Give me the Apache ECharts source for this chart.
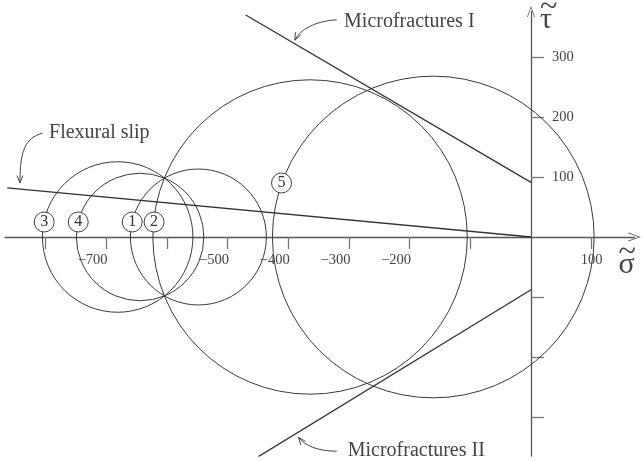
<!DOCTYPE html>
<html>
<head>
<meta charset="utf-8">
<title>Mohr circles</title>
<script src="https://cdn.jsdelivr.net/npm/echarts@6/dist/echarts.min.js"></script>
<style>
  html, body { margin: 0; padding: 0; background: #fff; }
  #main { width: 642px; height: 461px; }
</style>
</head>
<body>
<div id="main"></div>
<script>
// axis ticks and labels
var sigmaTicks = [-800, -700, -600, -500, -400, -300, -200, -100, 100];
var sigmaLabels = [-700, -500, -400, -300, -200, 100];
var tauTicks = [-300, -200, -100, 100, 200, 300];
var tauLabels = [100, 200, 300];

// Mohr circles: number, centre (sigma) and radius
var circleNames = ['1', '2', '3', '4', '5'];
var circleCenters = [-548, -364, -681, -644, -161];
var circleRadii = [112, 259, 124, 105, 265];
// where the circled number sits
var circleTagSigma = [-657, -621, -802, -746, -411];
var circleTagTau = [25, 25, 25, 25, 90];

// envelopes
var flexuralSlip = [[-863, 82], [0, 0]];
var microfracturesI = [[-470, 370], [0, 91]];
var microfracturesII = [[-449, -366], [0, -88]];

// annotations: text anchor and curved arrow (start, cp1, cp2, end)
var noteNames = ['Flexural slip', 'Microfractures I', 'Microfractures II'];
var noteAt = [[-794, 173], [-308, 359], [-302, -357]];
var noteArrows = [
  [-805, 173, -833, 165, -842, 145, -842, 90],
  [-320, 362, -356, 360, -381, 345, -389, 328],
  [-320, -357, -351, -357, -372, -348, -383, -334]
];

var serif = '"Liberation Serif", "DejaVu Serif", serif';
var ink = '#3a3a3a';
var chevron = 'path://M5,0 L10,14 L9,14 L5,2.4 L1,14 L0,14 Z';

var myChart = echarts.init(document.getElementById('main'));

function lineSeries(data) {
  return {
    type: 'line',
    data: data,
    symbol: 'none',
    silent: true,
    lineStyle: { color: '#333', width: 1.3 },
    z: 3
  };
}

// tilde over a greek letter, as two lines of rich text
function tildeRich(lineB) {
  return {
    t: { fontFamily: serif, fontSize: 32, color: '#444', lineHeight: 10 },
    g: { fontFamily: serif, fontSize: 30, color: '#444', lineHeight: lineB }
  };
}

myChart.setOption({
  animation: false,
  grid: { left: 5, right: 7.5, top: 11.5, bottom: 5, containLabel: false, outerBoundsMode: 'none' },
  xAxis: {
    type: 'value',
    min: -866.6,
    max: 170.5,
    position: 'bottom',
    offset: -219,
    name: '{t|~}\n{g|σ}',
    nameLocation: 'end',
    nameGap: -16,
    nameTextStyle: {
      align: 'left', verticalAlign: 'top', padding: [11, 0, 0, 0],
      rich: tildeRich(15)
    },
    splitLine: { show: false },
    axisLine: {
      onZero: false,
      symbol: ['none', chevron],
      symbolSize: [9, 13],
      lineStyle: { color: '#555', width: 1.3 }
    },
    axisTick: {
      customValues: sigmaTicks,
      length: 12,
      lineStyle: { color: '#777', width: 1.3 }
    },
    axisLabel: {
      customValues: sigmaLabels,
      margin: 16,
      align: 'center',
      fontFamily: serif,
      fontSize: 14,
      color: '#444',
      formatter: function (v) {
        if (v < 0) return '{n|\u2212' + Math.abs(v) + '}{s|}';
        return '{n|' + v + '}';
      },
      rich: {
        n: { fontFamily: serif, fontSize: 14.5, color: '#444' },
        s: { width: 27 }
      }
    }
  },
  yAxis: {
    type: 'value',
    min: -365,
    max: 375.8,
    position: 'left',
    offset: -526,
    name: '{t|~}\n{g|τ}',
    nameLocation: 'end',
    nameGap: 8.5,
    nameTextStyle: {
      align: 'left', verticalAlign: 'top', padding: [0, 0, 0, 9],
      rich: tildeRich(14)
    },
    splitLine: { show: false },
    axisLine: {
      onZero: false,
      symbol: ['none', chevron],
      symbolSize: [8, 13],
      lineStyle: { color: '#555', width: 1.3 }
    },
    axisTick: {
      customValues: tauTicks,
      inside: true,
      length: 13,
      lineStyle: { color: '#777', width: 1.3 }
    },
    axisLabel: {
      customValues: tauLabels,
      inside: true,
      margin: 21,
      fontFamily: serif,
      fontSize: 14.5,
      color: '#444'
    }
  },
  series: [
    {
      type: 'custom',
      silent: true,
      z: 2,
      data: circleCenters.map(function (c, i) { return [c, circleRadii[i]]; }),
      renderItem: function (params, api) {
        var p = api.coord([api.value(0), 0]);
        var r = api.size([api.value(1), 0])[0];
        return {
          type: 'circle',
          shape: { cx: p[0], cy: p[1], r: r },
          style: { fill: 'none', stroke: ink, lineWidth: 1 }
        };
      }
    },
    lineSeries(flexuralSlip),
    lineSeries(microfracturesI),
    lineSeries(microfracturesII),
    {
      type: 'custom',
      silent: true,
      z: 4,
      data: noteArrows,
      renderItem: function (params, api) {
        var a = api.coord([api.value(0), api.value(1)]);
        var c1 = api.coord([api.value(2), api.value(3)]);
        var c2 = api.coord([api.value(4), api.value(5)]);
        var b = api.coord([api.value(6), api.value(7)]);
        var ang = Math.atan2(b[1] - c2[1], b[0] - c2[0]);
        var len = 8, spread = 0.38;
        var h1 = [b[0] - len * Math.cos(ang - spread), b[1] - len * Math.sin(ang - spread)];
        var h2 = [b[0] - len * Math.cos(ang + spread), b[1] - len * Math.sin(ang + spread)];
        return {
          type: 'group',
          children: [
            {
              type: 'bezierCurve',
              shape: { x1: a[0], y1: a[1], cpx1: c1[0], cpy1: c1[1], cpx2: c2[0], cpy2: c2[1], x2: b[0], y2: b[1] },
              style: { fill: 'none', stroke: '#444', lineWidth: 1 }
            },
            {
              type: 'polyline',
              shape: { points: [h1, b, h2] },
              style: { fill: 'none', stroke: '#444', lineWidth: 1 }
            }
          ]
        };
      }
    },
    {
      type: 'custom',
      silent: true,
      z: 5,
      data: noteAt,
      renderItem: function (params, api) {
        var p = api.coord([api.value(0), api.value(1)]);
        return {
          type: 'text',
          x: p[0],
          y: p[1],
          style: {
            text: noteNames[params.dataIndex],
            fontFamily: serif,
            fontSize: 20,
            fill: '#444',
            align: 'left',
            verticalAlign: 'middle'
          }
        };
      }
    },
    {
      type: 'scatter',
      silent: true,
      z: 6,
      symbol: 'circle',
      symbolSize: 20,
      data: circleTagSigma.map(function (s, i) { return [s, circleTagTau[i]]; }),
      itemStyle: { color: '#fff', borderColor: '#444', borderWidth: 1, opacity: 1 },
      label: {
        show: true,
        position: 'inside',
        fontFamily: serif,
        fontSize: 16,
        color: '#333',
        formatter: function (p) { return circleNames[p.dataIndex]; }
      }
    }
  ]
});
</script>
</body>
</html>
